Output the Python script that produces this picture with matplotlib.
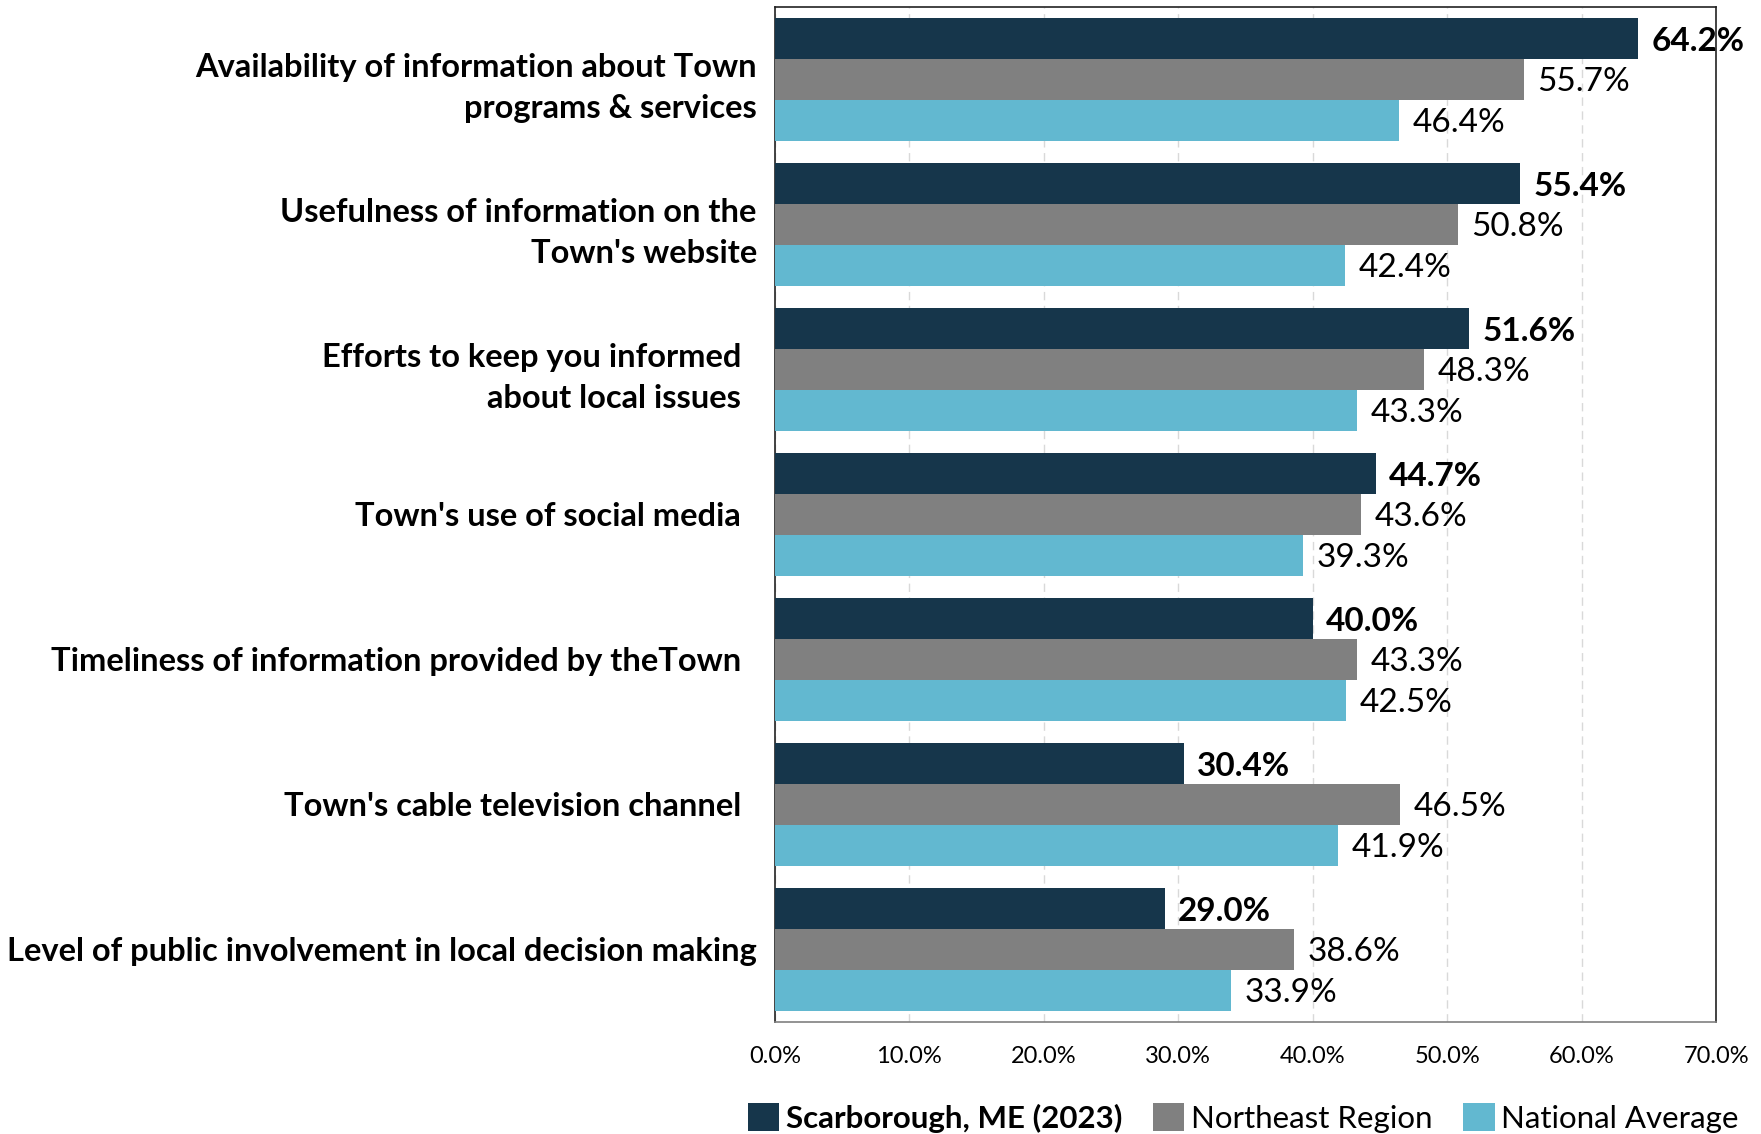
import matplotlib.pyplot as plt
import numpy as np
from matplotlib.ticker import FuncFormatter

plt.rcParams['font.family'] = ['Lato', 'DejaVu Sans']

# categories, top to bottom
categories = [
    "Availability of information about Town\nprograms & services",
    "Usefulness of information on the\nTown's website",
    "Efforts to keep you informed  \nabout local issues  ",
    "Town's use of social media  ",
    "Timeliness of information provided by theTown  ",
    "Town's cable television channel  ",
    "Level of public involvement in local decision making",
]
scarborough = [64.2, 55.4, 51.6, 44.7, 40.0, 30.4, 29.0]
northeast = [55.7, 50.8, 48.3, 43.6, 43.3, 46.5, 38.6]
national = [46.4, 42.4, 43.3, 39.3, 42.5, 41.9, 33.9]

series_names = ["Scarborough, ME (2023)", "Northeast Region", "National Average"]
colors = ["#16364B", "#808080", "#62B8D0"]

fig = plt.figure(figsize=(17.61, 11.34), dpi=100)
ax = fig.add_axes([0.440, 0.0988, 0.5345, 0.8952])

y = np.arange(len(categories))
h = 0.283
all_series = [scarborough, northeast, national]
for i, (vals, name, col) in enumerate(zip(all_series, series_names, colors)):
    pos = y + (i - 1) * h
    ax.barh(pos, vals, height=h, color=col, label=name, zorder=3)
    for p, v in zip(pos, vals):
        ax.text(v + 1.0, p + 0.02, f"{v:.1f}%", va='center', ha='left',
                fontsize=24, fontweight='bold' if i == 0 else 'normal',
                color='black', zorder=4)

ax.set_xlim(0, 70)
ax.set_ylim(len(categories) - 0.5, -0.5)
ax.set_xticks(np.arange(0, 71, 10))
ax.xaxis.set_major_formatter(FuncFormatter(lambda x, p: f"{x:.1f}%"))
ax.tick_params(axis='x', length=0, labelsize=17, pad=17)
ax.set_yticks(y)
ax.set_yticklabels(categories, fontsize=23.5, fontweight='bold', linespacing=1.52)
for t in ax.get_yticklabels():
    t.set_multialignment('right')
ax.tick_params(axis='y', length=0, pad=13)

ax.grid(axis='x', color='#D9D9D9', linestyle=(0, (6, 4)), linewidth=1, zorder=0)
for s in ax.spines.values():
    s.set_color('#222222')
    s.set_linewidth(1.2)
ax.spines['bottom'].set_color('#808080')

leg = fig.legend(loc='center', bbox_to_anchor=(0.706, 0.014), ncol=3, frameon=False,
                 fontsize=22.5, handlelength=1.0, handleheight=1.0,
                 handletextpad=0.2, columnspacing=1.0)
leg.get_texts()[0].set_fontweight('bold')

fig.savefig('out.png', dpi=100)
